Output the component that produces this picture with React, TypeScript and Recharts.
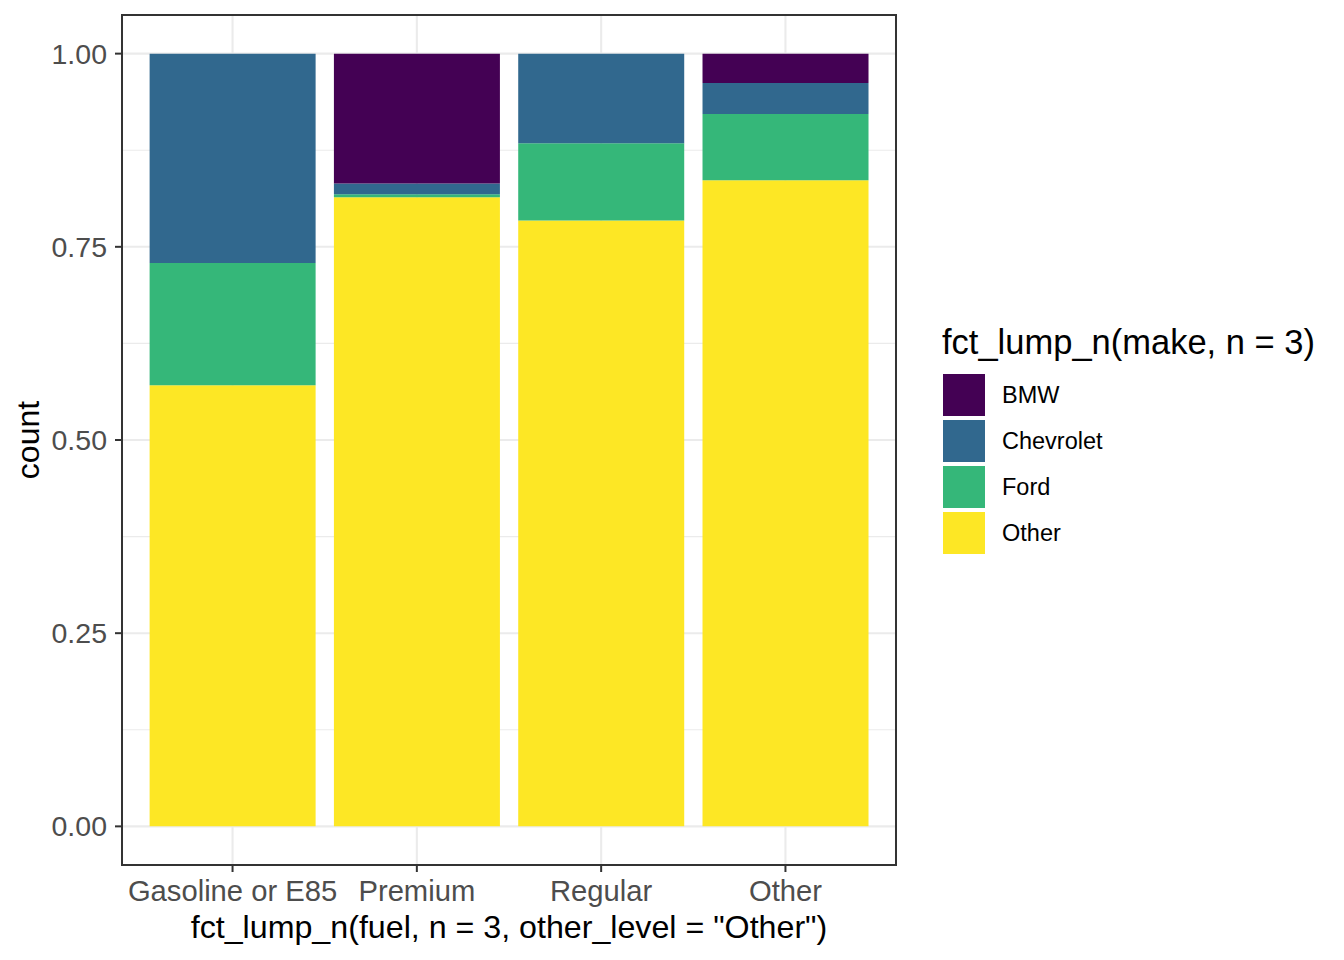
import React from 'react';
import { BarChart, Bar, XAxis, YAxis, CartesianGrid, Legend, Label } from 'recharts';

const fuels = ['Gasoline or E85', 'Premium', 'Regular', 'Other'];
const makes = ['BMW', 'Chevrolet', 'Ford', 'Other'];
const makeColors = ['#440154', '#31688E', '#35B779', '#FDE725'];
const bmwShare = [0, 0.168, 0, 0.038];
const chevroletShare = [0.271, 0.014, 0.116, 0.04];
const fordShare = [0.158, 0.004, 0.1, 0.086];
const otherShare = [0.571, 0.814, 0.784, 0.836];
const yTicks = [0, 0.25, 0.5, 0.75, 1];
const yMinorTicks = [0.125, 0.375, 0.625, 0.875];

const data = fuels.map((fuel, i) => ({
  fuel,
  BMW: bmwShare[i],
  Chevrolet: chevroletShare[i],
  Ford: fordShare[i],
  Other: otherShare[i],
}));

const FONT = '"Liberation Sans", Arial, Helvetica, sans-serif';

const LegendBox = () => (
  <div style={{ fontFamily: FONT, color: '#000' }}>
    <div style={{ fontSize: 34.5, lineHeight: '40px', height: 40, marginBottom: 12, marginLeft: -1, whiteSpace: 'nowrap' }}>
      fct_lump_n(make, n = 3)
    </div>
    {makes.map((m, i) => (
      <div key={m} style={{ display: 'flex', alignItems: 'center', height: 42, marginBottom: 4 }}>
        <div style={{ width: 42, height: 42, background: makeColors[i] }} />
        <div style={{ marginLeft: 17, fontSize: 23.5, lineHeight: '42px' }}>{m}</div>
      </div>
    ))}
  </div>
);

export default function App() {
  const order = [3, 2, 1, 0];
  return (
    <div style={{ position: 'absolute', left: 0, top: 0, width: 1344, height: 960, background: '#fff', fontFamily: FONT }}>
      <BarChart
        width={1344}
        height={960}
        data={data}
        margin={{ top: 15, right: 448, bottom: 0, left: 0 }}
        barCategoryGap="5%"
      >
        <CartesianGrid stroke="#EBEBEB" strokeWidth={1.1} vertical={false} horizontalValues={yMinorTicks} />
        <CartesianGrid stroke="#EBEBEB" strokeWidth={2.1} />
        <XAxis
          dataKey="fuel"
          height={95}
          padding={{ left: 18.4, right: 18.4 }}
          interval={0}
          axisLine={false}
          tickSize={7}
          tickMargin={8}
          tickLine={{ stroke: '#333333', strokeWidth: 2 }}
          tick={{ fill: '#4D4D4D', fontSize: 29.2 }}
        >
          <Label
            content={(p: any) => {
              const vb = p.viewBox || { x: 122, width: 774 };
              return (
                <text x={vb.x + vb.width / 2} y={938} textAnchor="middle" fontSize={32.2} fill="#000">
                  {'fct_lump_n(fuel, n = 3, other_level = "Other")'}
                </text>
              );
            }}
          />
        </XAxis>
        <YAxis
          type="number"
          width={122}
          domain={[-0.05, 1.05]}
          ticks={yTicks}
          interval={0}
          axisLine={false}
          tickSize={7}
          tickMargin={8}
          tickLine={{ stroke: '#333333', strokeWidth: 2 }}
          tick={{ fill: '#4D4D4D', fontSize: 28.5 }}
          tickFormatter={(v: number) => v.toFixed(2)}
        >
          <Label
            content={(p: any) => {
              const vb = p.viewBox || { y: 15, height: 850 };
              const cy = vb.y + vb.height / 2;
              return (
                <text x={39} y={cy} transform={`rotate(-90 39 ${cy})`} textAnchor="middle" fontSize={32} fill="#000">
                  count
                </text>
              );
            }}
          />
        </YAxis>
        {order.map((idx) => (
          <Bar
            key={makes[idx]}
            dataKey={makes[idx]}
            stackId="a"
            fill={makeColors[idx]}
            isAnimationActive={false}
          />
        ))}
        <Legend
          layout="vertical"
          align="center"
          verticalAlign="middle"
          content={() => <LegendBox />}
          wrapperStyle={{ left: 943, top: 322, width: 400, height: 240 }}
        />
      </BarChart>
      <div
        style={{
          position: 'absolute',
          left: 121,
          top: 14,
          width: 776,
          height: 852,
          border: '2px solid #333333',
          boxSizing: 'border-box',
          pointerEvents: 'none',
        }}
      />
    </div>
  );
}
